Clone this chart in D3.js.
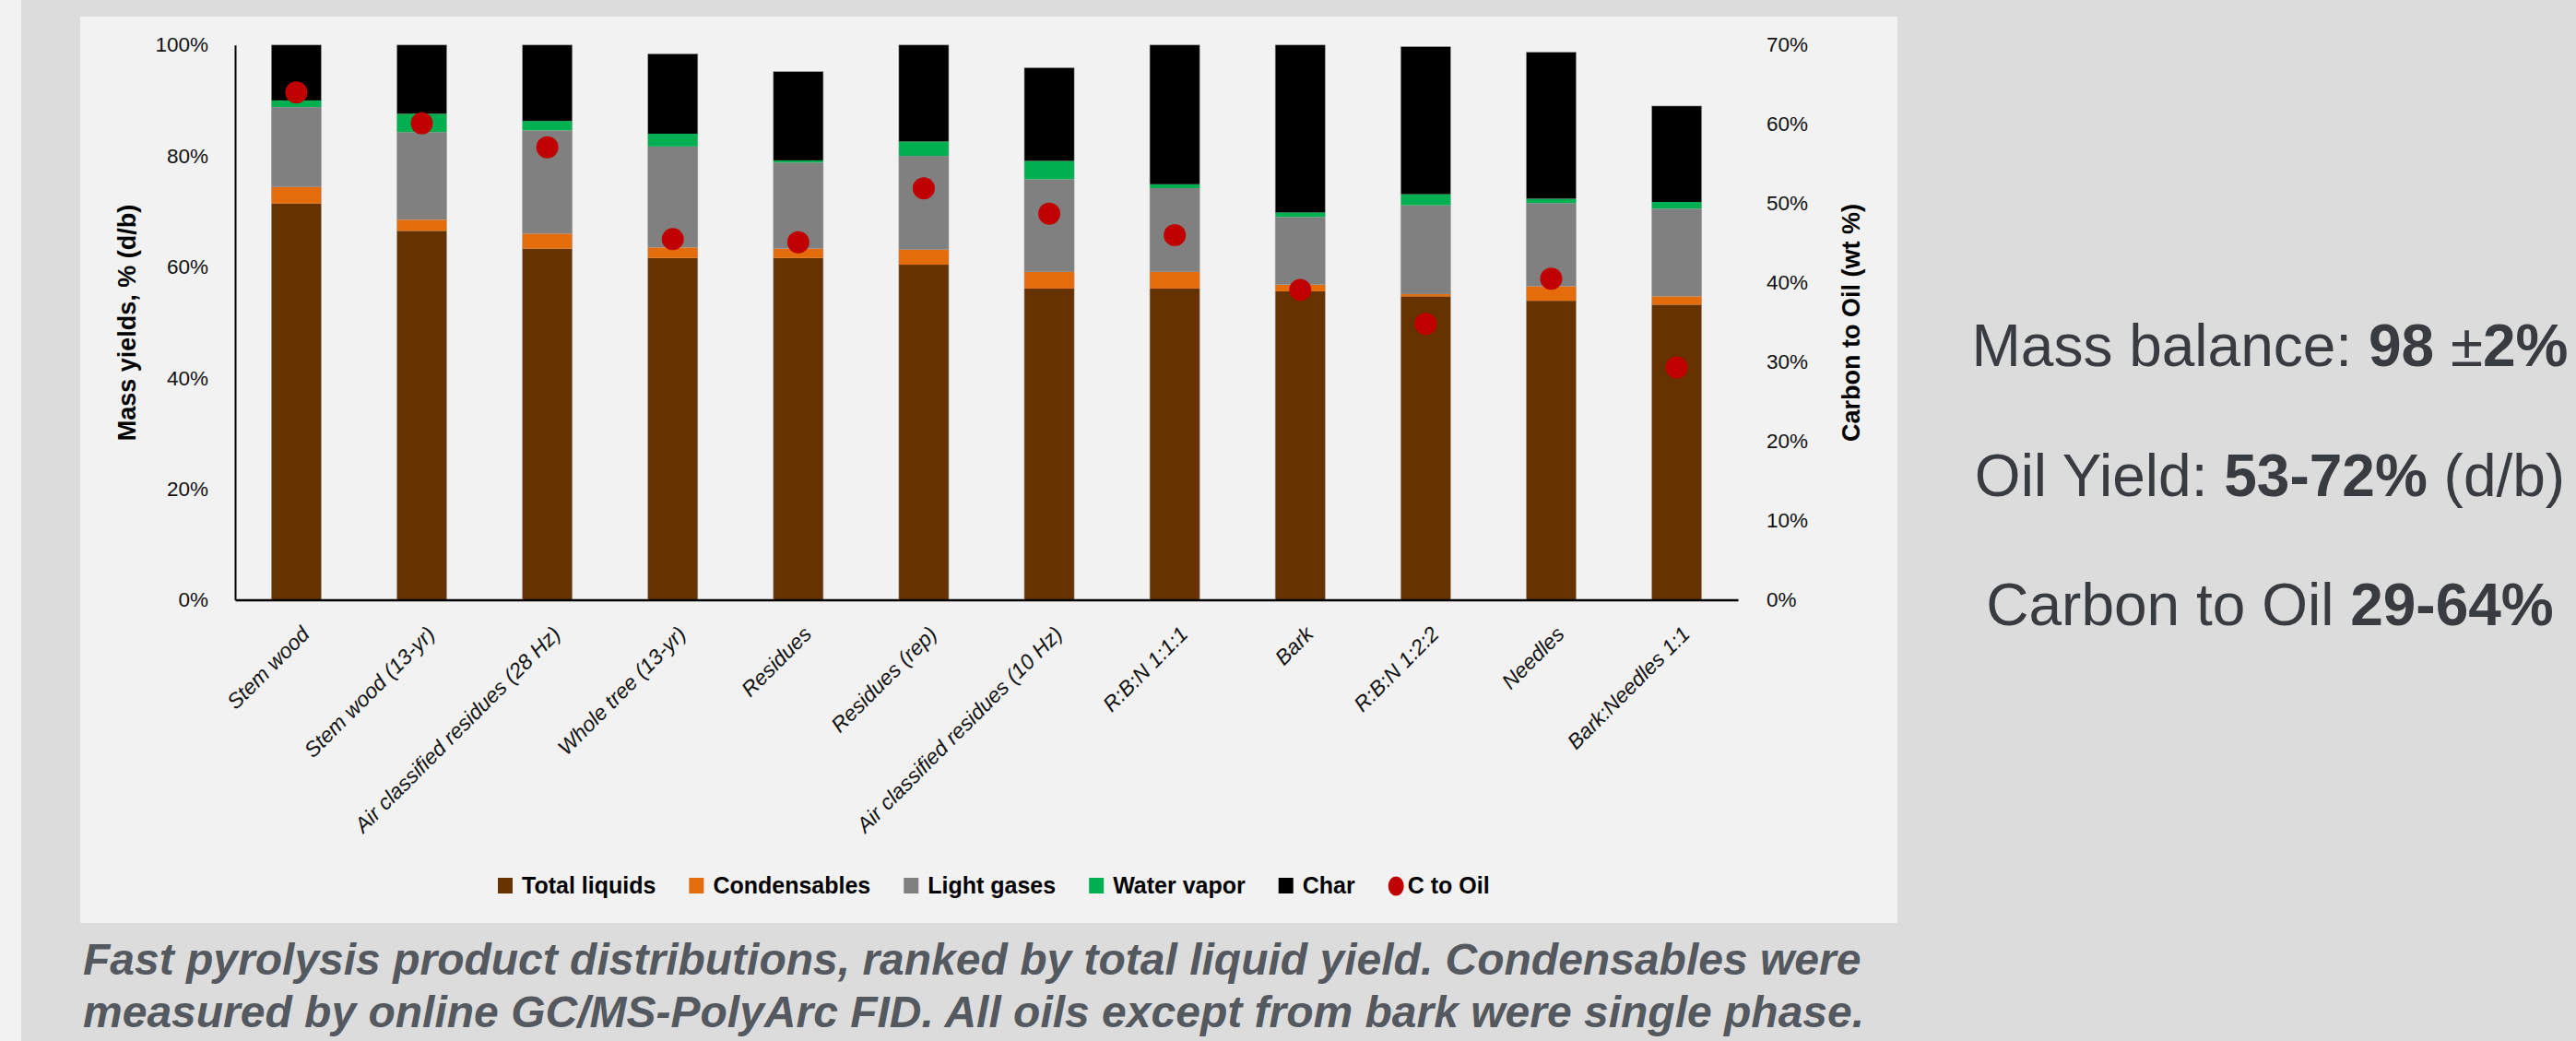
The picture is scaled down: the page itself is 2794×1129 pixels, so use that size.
<!DOCTYPE html>
<html><head><meta charset="utf-8">
<script src="https://cdn.jsdelivr.net/npm/d3@7"></script>
<style>html,body{margin:0;padding:0;background:#dcdcdc;overflow:hidden}</style>
</head><body><svg id="c" width="2794" height="1129"></svg>
<script>
// ---- data ----
const categories = ["Stem wood","Stem wood (13-yr)","Air classified residues (28 Hz)","Whole tree (13-yr)","Residues","Residues (rep)","Air classified residues (10 Hz)","R:B:N 1:1:1","Bark","R:B:N 1:2:2","Needles","Bark:Needles 1:1"];
const totalLiquids = [71.4, 66.5, 63.3, 61.6, 61.6, 60.4, 56.1, 56.1, 55.6, 54.7, 53.9, 53.2];
const condensables = [3.0, 2.0, 2.7, 1.9, 1.7, 2.7, 3.0, 3.0, 1.2, 0.4, 2.6, 1.5];
const lightGases   = [14.4, 15.8, 18.6, 18.2, 15.5, 16.9, 16.7, 15.1, 12.2, 16.0, 15.0, 15.8];
const waterVapor   = [1.2, 3.3, 1.7, 2.3, 0.4, 2.6, 3.3, 0.7, 0.8, 2.0, 0.8, 1.2];
const charYield    = [10.0, 12.4, 13.7, 14.4, 16.0, 17.4, 16.8, 25.1, 30.2, 26.6, 26.4, 17.3];
const cToOil       = [64.0, 60.1, 57.1, 45.5, 45.1, 51.9, 48.7, 46.0, 39.1, 34.8, 40.5, 29.3];
const leftTicks  = [0, 20, 40, 60, 80, 100];
const rightTicks = [0, 10, 20, 30, 40, 50, 60, 70];
const seriesNames  = ["Total liquids","Condensables","Light gases","Water vapor","Char"];
const seriesColors = ["#663300","#E46C0A","#808080","#00B050","#000000"];
const dotName = "C to Oil", dotColor = "#C00000";
const leftTitle = "Mass yields, % (d/b)";
const rightTitle = "Carbon to Oil (wt %)";
const captionLines = ["Fast pyrolysis product distributions, ranked by total liquid yield. Condensables were",
                      "measured by online GC/MS-PolyArc FID. All oils except from bark were single phase."];
const sideLines = [[["Mass balance: ",false],["98 ",true],["\u00B1",false],["2%",true]],
                   [["Oil Yield: ",false],["53-72%",true],[" (d/b)",false]],
                   [["Carbon to Oil ",false],["29-64%",true]]];

// ---- build ----
const sans = "'Liberation Sans',Arial,sans-serif";
const svg = d3.select("#c");
svg.append("rect").attr("width",2794).attr("height",1129).attr("fill","#dcdcdc");
svg.append("rect").attr("x",0).attr("y",0).attr("width",23).attr("height",1129).attr("fill","#f2f2f2");
svg.append("rect").attr("x",87).attr("y",18).attr("width",1971).attr("height",983).attr("fill","#f2f2f2");

const table = categories.map((c,i)=>({cat:c,
  "Total liquids":totalLiquids[i],"Condensables":condensables[i],"Light gases":lightGases[i],
  "Water vapor":waterVapor[i],"Char":charYield[i]}));
const stacked = d3.stack().keys(seriesNames)(table);

const x = d3.scaleBand().domain(categories).range([255,1885]).paddingInner(0.602).paddingOuter(0.289);
const y = d3.scaleLinear().domain([0,100]).range([650.5,48.75]);
const y2 = d3.scaleLinear().domain([0,70]).range([650.5,48.75]);
const color = d3.scaleOrdinal().domain(seriesNames).range(seriesColors);

// bars
svg.append("g").selectAll("g").data(stacked).join("g").attr("fill",d=>color(d.key))
  .selectAll("rect").data(d=>d).join("rect")
  .attr("x",d=>x(d.data.cat)).attr("width",x.bandwidth())
  .attr("y",d=>y(d[1])).attr("height",d=>y(d[0])-y(d[1]));
// faint bar outlines
svg.append("g").selectAll("rect").data(table).join("rect")
  .attr("x",d=>x(d.cat)).attr("width",x.bandwidth())
  .attr("y",d=>y(seriesNames.reduce((s,k)=>s+d[k],0))).attr("height",d=>y(0)-y(seriesNames.reduce((s,k)=>s+d[k],0)))
  .attr("fill","none").attr("stroke","#a6a6a6").attr("stroke-width",0.75).attr("stroke-opacity",0.7);

// dots
svg.append("g").selectAll("circle").data(categories).join("circle")
  .attr("cx",d=>x(d)+x.bandwidth()/2).attr("cy",(d,i)=>y2(cToOil[i])).attr("r",12)
  .attr("fill",dotColor);

// left axis
const gl = svg.append("g").attr("transform","translate(255,0)")
  .call(d3.axisLeft(y).tickValues(leftTicks).tickFormat(d=>d+"%").tickSize(0).tickPadding(29));
gl.select(".domain").attr("stroke","#000").attr("stroke-width",2);
gl.selectAll("text").attr("font-family",sans).attr("font-size",22.5).attr("fill","#111");

// right axis
const gr = svg.append("g").attr("transform","translate(1885,0)")
  .call(d3.axisRight(y2).tickValues(rightTicks).tickFormat(d=>d+"%").tickSize(0).tickPadding(31));
gr.select(".domain").remove();
gr.selectAll("text").attr("font-family",sans).attr("font-size",22.5).attr("fill","#111");

// bottom axis
const gb = svg.append("g").attr("transform","translate(0,650.5)")
  .call(d3.axisBottom(x).tickSize(0).tickSizeOuter(0));
gb.select(".domain").attr("stroke","#000").attr("stroke-width",2.5);
gb.selectAll("text").attr("font-family",sans).attr("font-size",23).attr("font-style","italic")
  .attr("fill","#111").attr("text-anchor","end").attr("x",0).attr("y",0).attr("dy","0.35em")
  .attr("transform","translate(10,33) rotate(-45)");

// axis titles
svg.append("text").attr("transform","translate(147,350) rotate(-90)").attr("text-anchor","middle")
  .attr("font-family",sans).attr("font-weight","bold").attr("font-size",27).attr("fill","#000").text(leftTitle);
svg.append("text").attr("transform","translate(2017,350) rotate(-90)").attr("text-anchor","middle")
  .attr("font-family",sans).attr("font-weight","bold").attr("font-size",27).attr("fill","#000").text(rightTitle);

// legend
const lg = svg.append("g");
let lx = 540;
const legendItems = seriesNames.map((n,i)=>({name:n,color:seriesColors[i],dot:false})).concat([{name:dotName,color:dotColor,dot:true}]);
legendItems.forEach(it=>{
  if(it.dot){
    lg.append("ellipse").attr("cx",lx+8.5).attr("cy",961).attr("rx",8.5).attr("ry",10.5).attr("fill",it.color);
  } else {
    lg.append("rect").attr("x",lx).attr("y",952).attr("width",16).attr("height",17).attr("fill",it.color);
  }
  const off = it.dot?21:26;
  const t = lg.append("text").attr("x",lx+off).attr("y",969).attr("font-family",sans)
    .attr("font-weight","bold").attr("font-size",25).attr("fill","#000").text(it.name);
  lx += off + t.node().getComputedTextLength() + 36;
});

// caption
captionLines.forEach((l,i)=>{
  svg.append("text").attr("x",90).attr("y",1057+i*56.5).attr("font-family",sans).attr("font-weight","bold")
    .attr("font-style","italic").attr("font-size",48).attr("fill","#54585f").text(l);
});

// side text
sideLines.forEach((parts,i)=>{
  const t = svg.append("text").attr("x",2462).attr("y",397+i*140.5).attr("text-anchor","middle")
    .attr("font-family",sans).attr("font-size",64).attr("fill","#383c41");
  parts.forEach(p=>t.append("tspan").attr("font-weight",p[1]?"bold":"normal").text(p[0]));
});
</script></body></html>
